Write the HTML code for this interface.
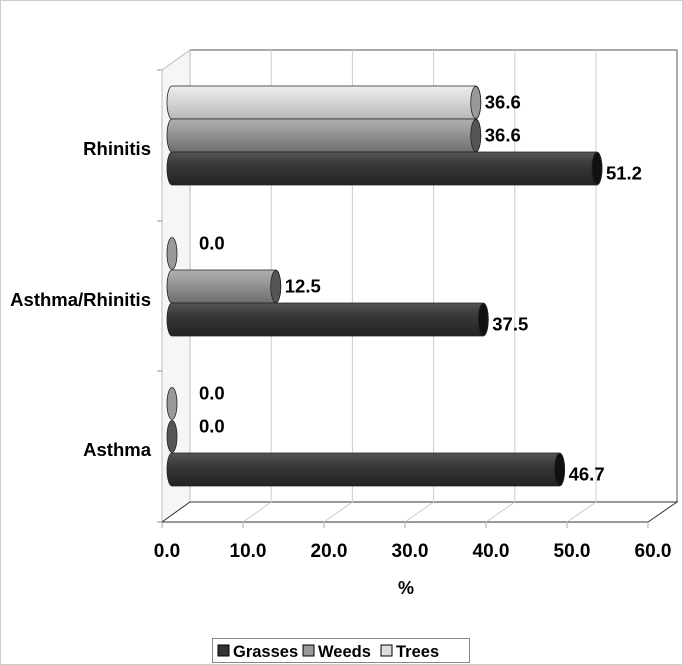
<!DOCTYPE html>
<html><head><meta charset="utf-8"><style>
body{margin:0;background:#fff}
svg{display:block;font-family:"Liberation Sans",Arial,sans-serif}
</style></head><body>
<svg id="c" width="683" height="665" viewBox="0 0 683 665">
<defs>
<linearGradient id="gG" x1="0" y1="0" x2="0" y2="1"><stop offset="0" stop-color="#555"/><stop offset="0.35" stop-color="#3a3a3a"/><stop offset="1" stop-color="#222"/></linearGradient>
<linearGradient id="gW" x1="0" y1="0" x2="0" y2="1"><stop offset="0" stop-color="#b0b0b0"/><stop offset="0.35" stop-color="#9a9a9a"/><stop offset="1" stop-color="#6e6e6e"/></linearGradient>
<linearGradient id="gT" x1="0" y1="0" x2="0" y2="1"><stop offset="0" stop-color="#eee"/><stop offset="0.35" stop-color="#dcdcdc"/><stop offset="1" stop-color="#b8b8b8"/></linearGradient>
</defs>
<rect x="0.5" y="0.5" width="682" height="664" fill="#fff" stroke="#ccc"/>
<g id="frame"></g>
<g id="bars"></g>
<g id="labels"></g>
<g>
<rect x="212.5" y="638.5" width="257" height="24" fill="#fff" stroke="#888"/>
<rect x="218" y="645" width="11" height="11" fill="#333" stroke="#000"/>
<text x="233" y="657" font-size="16.5" font-weight="bold">Grasses</text>
<rect x="303" y="645" width="11" height="11" fill="#999" stroke="#000"/>
<text x="318" y="657" font-size="16.5" font-weight="bold">Weeds</text>
<rect x="381" y="645" width="11" height="11" fill="#ddd" stroke="#000"/>
<text x="396" y="657" font-size="16.5" font-weight="bold">Trees</text>
</g>
</svg>
<script>
const categories=["Rhinitis","Asthma/Rhinitis","Asthma"];
const grasses=[51.2,37.5,46.7];
const weeds=[36.6,12.5,0.0];
const trees=[36.6,0.0,0.0];
const ticks=[0,10,20,30,40,50,60];
const NS="http://www.w3.org/2000/svg";
function mk(tag,attrs,parent){const e=document.createElementNS(NS,tag);for(const k in attrs)e.setAttribute(k,attrs[k]);parent.appendChild(e);return e;}
const backX=v=>190+v*8.12, frontX=v=>162+v*8.1, barX=v=>172+v*8.3;
const frame=document.getElementById('frame');
let w=mk('rect',{x:190,y:50,width:487,height:452,fill:'#fff',stroke:'#555'},frame);


let sw=mk('polygon',{points:'162,70 190,50 190,502 162,522',fill:'#f6f6f6',stroke:'#bbb'},frame);


let fl=mk('polygon',{points:'162,522 190,502 677,502 648,522',fill:'#fff',stroke:'#333'},frame);


ticks.forEach((t,i)=>{
  if(i>0&&i<6){const g=mk('line',{x1:backX(t),y1:50,x2:backX(t),y2:502,stroke:'#ccc'},frame);
  
  }
  if(i>0&&i<6){const f=mk('line',{x1:frontX(t),y1:522,x2:backX(t),y2:502,stroke:'#ccc'},frame);
  
  }
  mk('line',{x1:frontX(t),y1:522,x2:frontX(t),y2:528,stroke:'#aaa'},frame);
  const tl=mk('text',{x:frontX(t)+5,y:557,'font-size':19,'font-weight':'bold','text-anchor':'middle'},frame);
  tl.textContent=t.toFixed(1);
  
  
});
[70,221,371,522].forEach(y=>mk('line',{x1:157,y1:y,x2:162,y2:y,stroke:'#999'},frame));
const xt=mk('text',{x:406,y:594,'font-size':18,'font-weight':'bold','text-anchor':'middle'},frame);
xt.textContent='%';


const bars=document.getElementById('bars'),labels=document.getElementById('labels');
const groupTop=[86,237,387];
const series=[[trees,'gT','#999','trees'],[weeds,'gW','#555','weeds'],[grasses,'gG','#111','grasses']];
categories.forEach((c,ci)=>{
  const cl=mk('text',{x:151,y:groupTop[ci]+69,'font-size':18.5,'font-weight':'bold','text-anchor':'end'},labels);
  cl.textContent=c;
  
  
  series.forEach((s,si)=>{
    const v=s[0][ci],y=groupTop[ci]+si*33,h=33,x0=barX(0),x1=barX(v),rx=5;
    const g=mk('g',{},bars);
    
    
    if(v>0){
      mk('path',{d:`M${x0},${y} L${x1},${y} A${rx},${h/2} 0 0 1 ${x1},${y+h} L${x0},${y+h} A${rx},${h/2} 0 0 1 ${x0},${y}Z`,fill:`url(#${s[1]})`,stroke:'#222','stroke-width':0.8},g);
    }
    mk('ellipse',{cx:x1,cy:y+h/2,rx:rx,ry:h/2-0.5,fill:s[2],stroke:'#222','stroke-width':0.8},g);
    const vl=mk('text',{x:x1+(v>0?9:27),y:y+h/2+(v>0?6:-4)+(si==2?5:0),'font-size':18.5,'font-weight':'bold'},labels);
    vl.textContent=v.toFixed(1);
    
    
  });
});
</script>
</body></html>
